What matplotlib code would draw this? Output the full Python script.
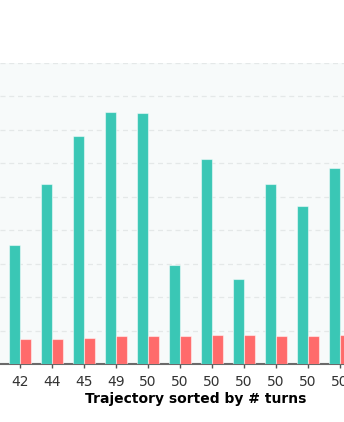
import numpy as np
from matplotlib import pyplot as plt

turns = ['42', '44', '45', '49', '50', '50', '50', '50', '50', '50', '50']
teal_vals = [3.57, 5.39, 6.81, 7.54, 7.51, 2.95, 6.13, 2.55, 5.38, 4.73, 5.87]
red_vals = [0.74, 0.75, 0.78, 0.84, 0.85, 0.85, 0.87, 0.87, 0.85, 0.85, 0.87]

fig = plt.figure(figsize=(3.44, 4.22), dpi=100)
fig.patch.set_facecolor('white')
# axes deliberately wider than the figure: the reference is a crop
ax = fig.add_axes([0.0, 58/422, 392/344, 301/422])
ax.set_facecolor('#f7fafa')

x = np.arange(len(turns))
w = 0.33
ax.bar(x - w/2, teal_vals, width=w, color='#3ac7b5', edgecolor=(1, 1, 1, 0.5), linewidth=0.8, zorder=3)
ax.bar(x + w/2, red_vals, width=w, color='#ff6b6b', edgecolor=(1, 1, 1, 0.5), linewidth=0.8, zorder=3)

ax.set_xlim(-0.625, 11.625)
ax.set_ylim(0, 9)
ax.set_yticks(np.arange(0, 10, 1))
ax.yaxis.grid(True, linestyle=(0, (4, 3)), color='#e4e8e8', linewidth=0.9, zorder=0)
ax.tick_params(axis='y', left=False, labelleft=False)

ax.set_xticks(x)
ax.set_xticklabels(turns, fontsize=10, color='#333333')
ax.tick_params(axis='x', length=3, width=1, color='#555555', pad=5)
for s in ['top', 'right', 'left']:
    ax.spines[s].set_visible(False)
ax.spines['bottom'].set_color('#6a6a6a')
ax.spines['bottom'].set_linewidth(1.5)

ax.set_xlabel('Trajectory sorted by # turns', fontsize=10, fontweight='bold', labelpad=2)

fig.savefig('out.png', dpi=100)
